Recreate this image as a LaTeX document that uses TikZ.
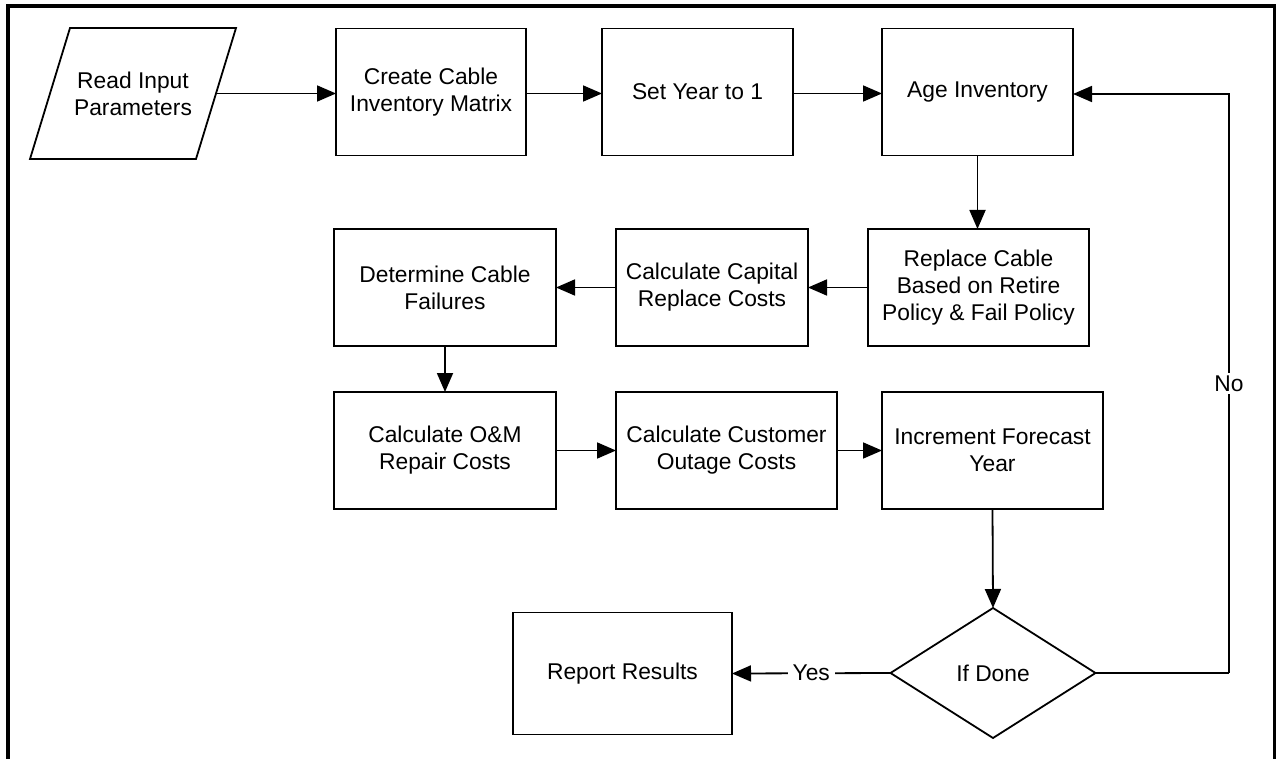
\documentclass[tikz,border=0pt]{standalone}
\usepackage{fontspec}
\setmainfont{Liberation Sans}
\usetikzlibrary{arrows.meta,shapes.geometric,calc}
\begin{document}
\begin{tikzpicture}[x=1pt,y=-1pt,
  every node/.style={font=\fontsize{22.8}{27}\selectfont, align=center, inner sep=0pt, outer sep=0pt},
  procbox/.style={draw, line width=1.8pt, rectangle},
  flow/.style={line width=1.8pt, -{Triangle[length=19pt,width=16pt]}},
  plain/.style={line width=1.8pt},
  lbl/.style={fill=white, inner xsep=5pt, inner ysep=3pt}]
\useasboundingbox (0,0) rectangle (1276,759);
% frame
\draw[line width=3.5pt] (8,759) -- (8,6) -- (1274.5,6) -- (1274.5,759);
% input parallelogram
\coordinate (pTL) at (70,28);
\coordinate (pTR) at (236,28);
\coordinate (pBR) at (196,159);
\coordinate (pBL) at (30,159);
\draw[line width=1.8pt, line join=miter] (pTL) -- (pTR) -- (pBR) -- (pBL) -- cycle;
\node (read) at (133,93.5) {Read Input\\Parameters};
\coordinate (readR) at ($(pTR)!0.5!(pBR)$);
% nodes
\node[procbox, minimum width=190pt, minimum height=127pt] (create) at (431,92) {Create Cable\\Inventory Matrix};
\node[procbox, minimum width=191pt, minimum height=127pt] (setyear) at (697.5,92) {Set Year to 1};
\node[procbox, minimum width=191pt, minimum height=127pt] (age) at (977.5,92) {Age Inventory};
\node[procbox, minimum width=221pt, minimum height=117pt] (replace) at (978.5,287.5) {Replace Cable\\Based on Retire\\Policy \& Fail Policy};
\node[procbox, minimum width=192pt, minimum height=117pt] (capital) at (712,287.5) {Calculate Capital\\Replace Costs};
\node[procbox, minimum width=222pt, minimum height=117pt] (determine) at (445,287.5) {Determine Cable\\Failures};
\node[procbox, minimum width=222pt, minimum height=117pt] (om) at (445,450.5) {Calculate O\&M\\Repair Costs};
\node[procbox, minimum width=221pt, minimum height=117pt] (customer) at (726.5,450.5) {Calculate Customer\\Outage Costs};
\node[procbox, minimum width=221pt, minimum height=117pt] (increment) at (992.5,450.5) {Increment Forecast\\Year};
\node[draw, line width=1.8pt, diamond, minimum width=205pt, minimum height=130pt] (done) at (993,673) {If Done};
\node[procbox, minimum width=219pt, minimum height=122pt] (report) at (622.5,673.5) {Report Results};
\coordinate (loopB) at (1229,673);
\coordinate (loopT) at (1229,94);
% connectors
\draw[flow] (readR) -- (readR -| create.west);
\draw[flow] (create.east |- readR) -- (setyear.west |- readR);
\draw[flow] (setyear.east |- readR) -- (age.west |- readR);
\draw[flow] (age.south) -- (age.south |- replace.north);
\draw[flow] (replace) -- (capital);
\draw[flow] (capital) -- (determine);
\draw[flow] (determine) -- (om);
\draw[flow] (om) -- (customer);
\draw[flow] (customer) -- (increment);
\draw[flow] (increment.south) -- (done.north);
\draw[flow] (done.west) -- node[lbl] {Yes} (report.east);
\draw[plain] (done.east) -- (loopB);
\draw[flow] (loopB) -- node[lbl, pos=0.5] {No} (loopT) -- (age.east |- loopT);
\end{tikzpicture}
\end{document}
